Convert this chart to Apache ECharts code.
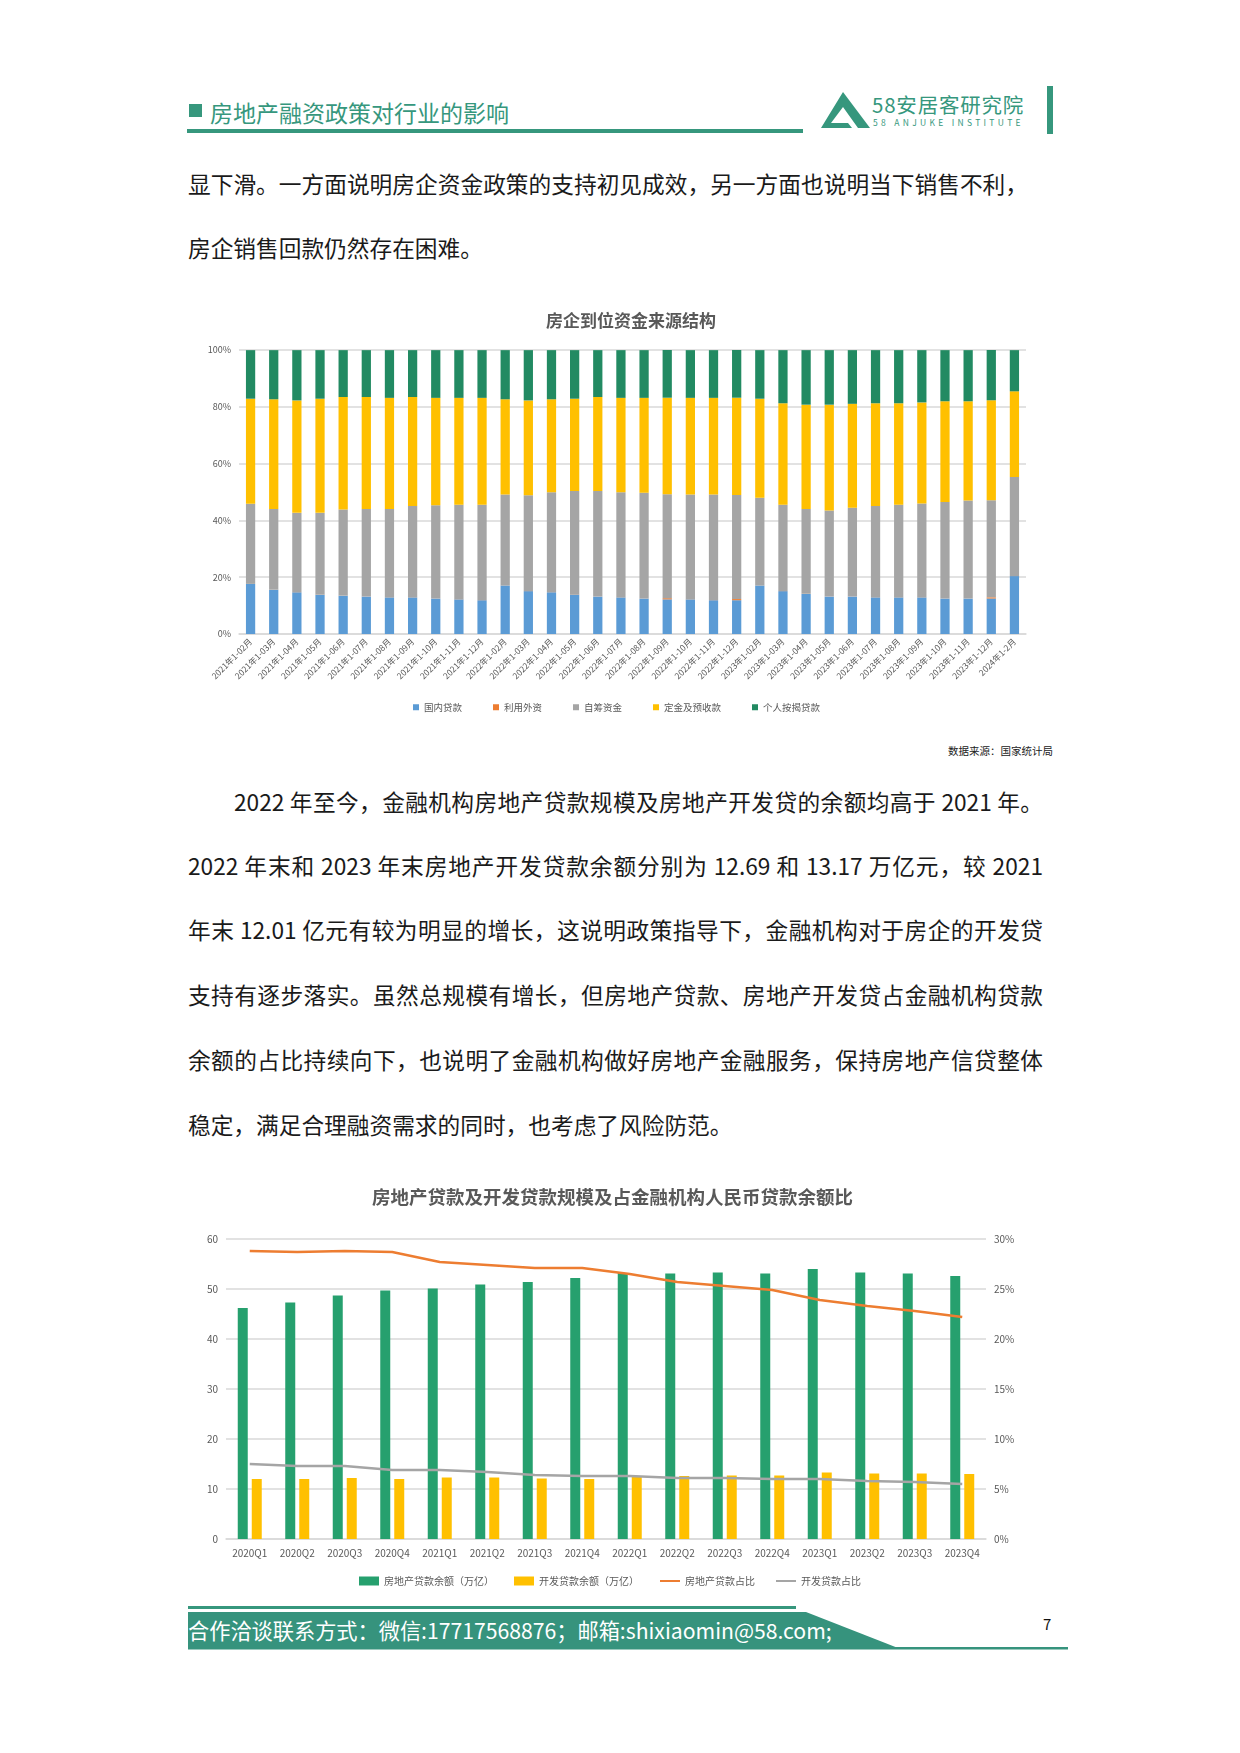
<!DOCTYPE html>
<html><head><meta charset="utf-8">
<script src="https://cdn.jsdelivr.net/npm/echarts@6/dist/echarts.min.js"></script>
<style>
html,body{margin:0;padding:0;background:#fff;}
body{width:1240px;height:1753px;position:relative;overflow:hidden;font-family:"Noto Sans CJK SC","Noto Sans",sans-serif;}
.abs{position:absolute;white-space:nowrap;}
.line{position:absolute;font-size:22.7px;line-height:30px;color:#1a1a1a;white-space:nowrap;}
.just{text-align:justify;text-align-last:justify;}
</style></head>
<body>
<!-- header -->
<div class="abs" style="left:189px;top:104px;width:13px;height:13px;background:#36977d;"></div>
<div class="abs" style="left:210px;top:97px;font-size:23px;line-height:30px;color:#36977d;">房地产融资政策对行业的影响</div>
<div class="abs" style="left:187px;top:129px;width:616px;height:4px;background:#36977d;"></div>
<svg class="abs" style="left:818px;top:90px;" width="54" height="40" viewBox="0 0 54 40">
  <path d="M25,2 L52,38 L40,38 L25,17 L13,33 L30,33 L34,38 L3,38 Z" fill="#36977d"/>
</svg>
<div class="abs" style="left:872px;top:91px;font-size:20.5px;line-height:26px;color:#36977d;letter-spacing:0.8px;">58安居客研究院</div>
<div class="abs" style="left:873px;top:117px;font-size:8.5px;line-height:10px;color:#36977d;letter-spacing:3.3px;">58 ANJUKE  INSTITUTE</div>
<div class="abs" style="left:1047px;top:86px;width:6px;height:48px;background:#36977d;"></div>

<!-- paragraph 1 -->
<div class="line just" style="left:188px;top:169px;width:840px;">显下滑。一方面说明房企资金政策的支持初见成效，另一方面也说明当下销售不利，</div>
<div class="line" style="left:188px;top:233px;">房企销售回款仍然存在困难。</div>

<div id="c1" class="abs" style="left:180px;top:290px;width:880px;height:430px;"></div>
<div class="abs" style="left:948px;top:744px;font-size:10.5px;line-height:14px;color:#222;">数据来源：国家统计局</div>

<!-- paragraph 2 -->
<div class="line just" style="left:234px;top:787px;width:809px;">2022 年至今，金融机构房地产贷款规模及房地产开发贷的余额均高于 2021 年。</div>
<div class="line just" style="left:188px;top:851px;width:855px;">2022 年末和 2023 年末房地产开发贷款余额分别为 12.69 和 13.17 万亿元，较 2021</div>
<div class="line just" style="left:188px;top:915px;width:855px;">年末 12.01 亿元有较为明显的增长，这说明政策指导下，金融机构对于房企的开发贷</div>
<div class="line just" style="left:188px;top:980px;width:855px;">支持有逐步落实。虽然总规模有增长，但房地产贷款、房地产开发贷占金融机构贷款</div>
<div class="line just" style="left:188px;top:1045px;width:855px;">余额的占比持续向下，也说明了金融机构做好房地产金融服务，保持房地产信贷整体</div>
<div class="line" style="left:188px;top:1110px;">稳定，满足合理融资需求的同时，也考虑了风险防范。</div>

<div id="c2" class="abs" style="left:180px;top:1170px;width:880px;height:430px;"></div>

<!-- footer -->
<div class="abs" style="left:188px;top:1606px;width:608px;height:3px;background:#36977d;"></div>
<svg class="abs" style="left:186px;top:1611px;" width="884" height="40" viewBox="0 0 884 40">
  <polygon points="2,1 620,1 712,37 2,37" fill="#36937d"/>
  <rect x="2" y="36" width="880" height="2.5" fill="#36937d"/>
</svg>
<div class="abs" style="left:188px;top:1615px;font-size:21.2px;line-height:30px;color:#fff;">合作洽谈联系方式：微信:17717568876；邮箱:shixiaomin@58.com;</div>
<div class="abs" style="left:1043px;top:1614px;font-size:15px;line-height:20px;color:#111;">7</div>

<script>
// ---------- Chart 1 data: 房企到位资金来源结构 (shares, %) ----------
var months = ["2021年1-02月","2021年1-03月","2021年1-04月","2021年1-05月","2021年1-06月","2021年1-07月","2021年1-08月","2021年1-09月","2021年1-10月","2021年1-11月","2021年1-12月",
"2022年1-02月","2022年1-03月","2022年1-04月","2022年1-05月","2022年1-06月","2022年1-07月","2022年1-08月","2022年1-09月","2022年1-10月","2022年1-11月","2022年1-12月",
"2023年1-02月","2023年1-03月","2023年1-04月","2023年1-05月","2023年1-06月","2023年1-07月","2023年1-08月","2023年1-09月","2023年1-10月","2023年1-11月","2023年1-12月","2024年1-2月"];
var domesticLoans = [17.6,15.6,14.7,13.8,13.5,13.2,12.9,12.9,12.5,12.2,11.9,17.1,15.1,14.7,13.8,13.2,12.9,12.5,12.2,12.2,11.9,11.9,17.1,15.1,14.1,13.2,13.2,12.9,12.9,12.9,12.5,12.5,12.5,20.4];
var foreignCapital = [0.05,0.05,0.05,0.05,0.05,0.05,0.05,0.05,0.05,0.05,0.05,0.05,0.05,0.05,0.05,0.05,0.05,0.05,0.4,0.05,0.05,0.4,0.05,0.05,0.05,0.05,0.05,0.05,0.05,0.05,0.05,0.05,0.4,0.05];
var selfRaised = [28.2,28.4,27.9,28.8,30.3,30.8,31.1,32.1,32.8,33.3,33.6,32.0,33.7,35.2,36.5,37.1,37.0,37.2,36.6,36.9,37.2,36.6,30.8,30.4,29.9,30.2,31.2,32.1,32.6,33.0,33.9,34.5,34.2,34.8];
var deposits = [37.0,38.6,39.6,40.2,39.6,39.4,39.1,38.4,37.8,37.6,37.6,33.5,33.4,32.7,32.5,33.1,33.2,33.4,34.0,34.0,34.0,34.3,34.9,35.7,36.7,37.3,36.6,36.2,35.7,35.6,35.5,34.9,35.2,30.2];
var mortgages = [17.1,17.3,17.7,17.1,16.5,16.5,16.8,16.5,16.8,16.8,16.8,17.3,17.7,17.3,17.1,16.5,16.8,16.8,16.8,16.8,16.8,16.8,17.1,18.7,19.2,19.2,18.9,18.7,18.7,18.4,18.0,18.0,17.7,14.5];
var c1Names = ["国内贷款","利用外资","自筹资金","定金及预收款","个人按揭贷款"];

// ---------- Chart 2 data ----------
var quarters = ["2020Q1","2020Q2","2020Q3","2020Q4","2021Q1","2021Q2","2021Q3","2021Q4","2022Q1","2022Q2","2022Q3","2022Q4","2023Q1","2023Q2","2023Q3","2023Q4"];
var reLoans = [46.2,47.3,48.7,49.7,50.1,50.9,51.4,52.2,53.2,53.1,53.3,53.1,54.0,53.3,53.1,52.6];
var devLoans = [12.0,12.0,12.2,12.0,12.3,12.3,12.1,12.0,12.5,12.6,12.7,12.7,13.3,13.1,13.1,13.0];
var reShare = [28.8,28.7,28.8,28.7,27.7,27.4,27.1,27.1,26.5,25.7,25.3,24.9,23.9,23.3,22.8,22.2];
var devShare = [7.5,7.3,7.3,6.9,6.9,6.7,6.4,6.3,6.3,6.1,6.1,6.0,6.0,5.8,5.7,5.5];
var c2Names = ["房地产贷款余额（万亿）","开发贷款余额（万亿）","房地产贷款占比","开发贷款占比"];

var FONT = '"Noto Sans CJK SC","Noto Sans",sans-serif';
var axisGrey = '#595959';
var gridGrey = '#d9d9d9';

var c1Colors = ['#5b9bd5','#ed7d31','#a5a5a5','#ffc000','#228a62'];
var c1Data = [domesticLoans, foreignCapital, selfRaised, deposits, mortgages];
var chart1 = echarts.init(document.getElementById('c1'), null, {renderer:'canvas'});
chart1.setOption({
  animation:false,
  textStyle:{fontFamily:FONT},
  title:{text:'房企到位资金来源结构', left:361, top:17, textStyle:{fontSize:17, fontWeight:'bold', color:'#595959', fontFamily:FONT}},
  legend:{bottom:3, left:228, itemWidth:6, itemHeight:6, itemGap:31, icon:'rect',
    textStyle:{fontSize:9.5, color:axisGrey, fontFamily:FONT}, data:c1Names},
  grid:{left:59, right:34, top:60, bottom:86},
  xAxis:{type:'category', data:months,
    axisLine:{lineStyle:{color:gridGrey, width:1.5}}, axisTick:{show:false},
    axisLabel:{rotate:45, interval:0, fontSize:8.5, color:axisGrey, margin:6, fontFamily:FONT}},
  yAxis:{type:'value', min:0, max:100, interval:20,
    axisLabel:{formatter:'{value}%', fontSize:9, color:axisGrey, fontFamily:FONT},
    splitLine:{lineStyle:{color:gridGrey, width:1.5}}, axisLine:{show:false}, axisTick:{show:false}},
  series:c1Names.map(function(n,i){
    return {name:n, type:'bar', stack:'total', data:c1Data[i], barCategoryGap:'60%',
      itemStyle:{color:c1Colors[i]}};
  })
});

var chart2 = echarts.init(document.getElementById('c2'), null, {renderer:'canvas'});
chart2.setOption({
  animation:false,
  textStyle:{fontFamily:FONT},
  title:{text:'房地产贷款及开发贷款规模及占金融机构人民币贷款余额比', left:187, top:13, textStyle:{fontSize:18.5, fontWeight:'bold', color:'#595959', fontFamily:FONT}},
  legend:{bottom:9, left:174, itemGap:20, itemWidth:20, itemHeight:9,
    textStyle:{fontSize:10, color:axisGrey, fontFamily:FONT},
    data:[{name:c2Names[0], icon:'rect'},{name:c2Names[1], icon:'rect'},
          {name:c2Names[2], itemStyle:{opacity:0}},{name:c2Names[3], itemStyle:{opacity:0}}]},
  grid:{left:46, right:74, top:69, bottom:61},
  xAxis:{type:'category', data:quarters,
    axisLine:{lineStyle:{color:gridGrey, width:1.5}}, axisTick:{show:false},
    axisLabel:{fontSize:10, color:axisGrey, margin:9, fontFamily:FONT}},
  yAxis:[
    {type:'value', min:0, max:60, interval:10,
      axisLabel:{fontSize:10, color:axisGrey, fontFamily:FONT},
      splitLine:{lineStyle:{color:gridGrey, width:1.5}}, axisLine:{show:false}, axisTick:{show:false}},
    {type:'value', min:0, max:30, interval:5,
      axisLabel:{formatter:'{value}%', fontSize:10, color:axisGrey, fontFamily:FONT},
      splitLine:{show:false}, axisLine:{show:false}, axisTick:{show:false}}
  ],
  series:[
    {name:c2Names[0], type:'bar', data:reLoans, barWidth:10, barGap:'40%', itemStyle:{color:'#26a06e'}},
    {name:c2Names[1], type:'bar', data:devLoans, barWidth:10, itemStyle:{color:'#ffc000'}},
    {name:c2Names[2], type:'line', yAxisIndex:1, data:reShare, symbol:'none', lineStyle:{color:'#ed7d31', width:2.5}, itemStyle:{color:'#ed7d31'}},
    {name:c2Names[3], type:'line', yAxisIndex:1, data:devShare, symbol:'none', lineStyle:{color:'#a5a5a5', width:2.5}, itemStyle:{color:'#a5a5a5'}}
  ]
});
</script>
</body></html>
